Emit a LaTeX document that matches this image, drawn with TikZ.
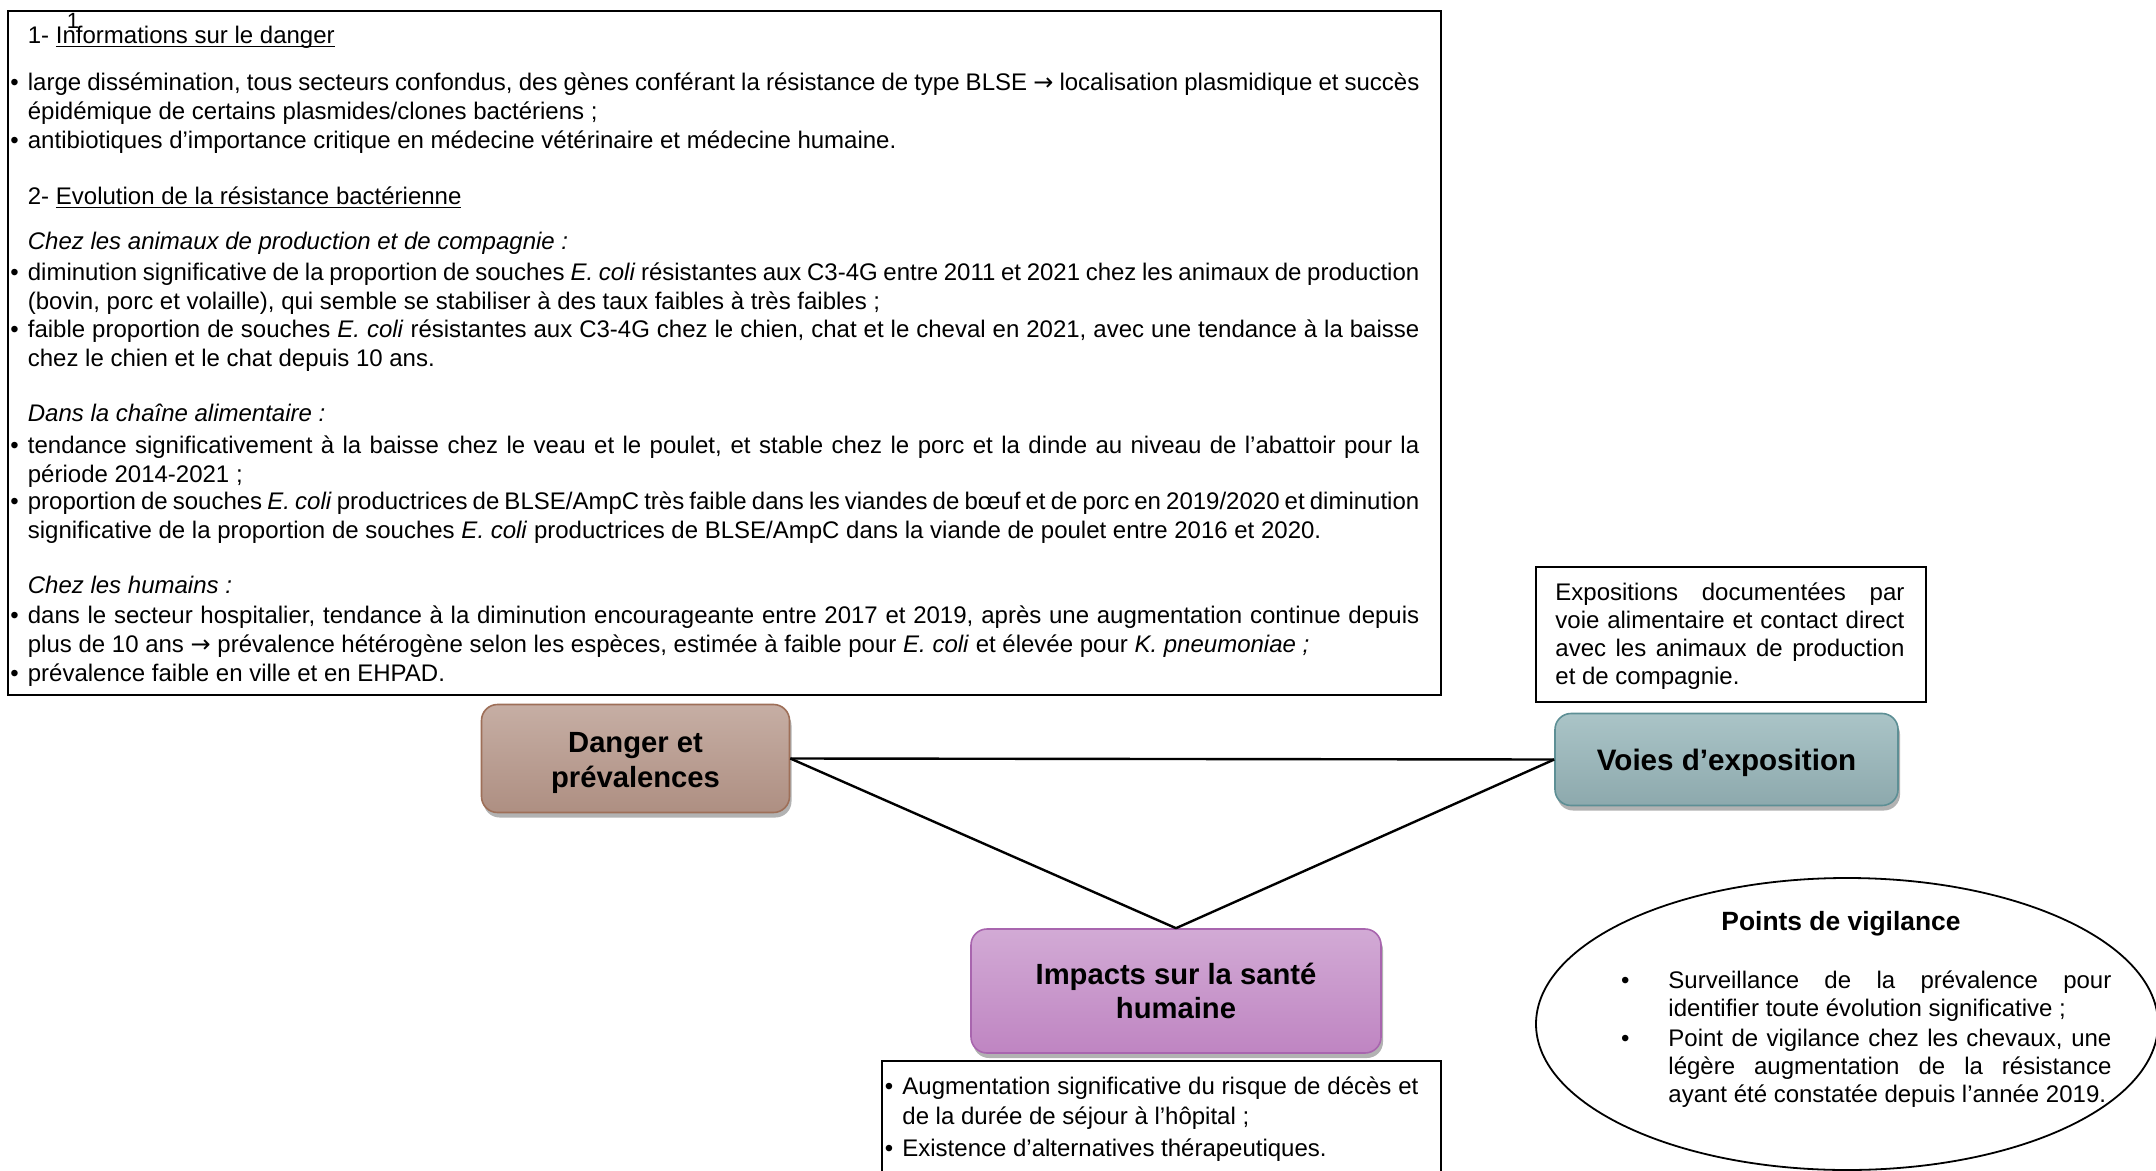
\documentclass[tikz,border=0pt]{standalone}
\usepackage{fontspec}
\setmainfont{Liberation Sans}
\newfontfamily\arrowfont{DejaVu Sans}
\usetikzlibrary{shapes.geometric,shadows}
\setlength{\parindent}{0pt}
\hyphenpenalty=10000
\exhyphenpenalty=10000
\tolerance=10000
\hbadness=10000
\newlength{\ulwidth}
\newcommand{\myul}[1]{\settowidth{\ulwidth}{#1}\rlap{\rule[-1.8pt]{\ulwidth}{0.6pt}}#1}
\newcommand{\arr}{{\arrowfont\fontsize{12}{14}\selectfont →}}
\newcommand{\bul}{\llap{\textbullet\hspace{4.6pt}}}
\newcommand{\bulL}{\llap{\textbullet\hspace{19.4pt}}}
\definecolor{dangerTop}{HTML}{C6AEA4}
\definecolor{dangerBot}{HTML}{AE8F82}
\definecolor{dangerLine}{HTML}{9E6F58}
\definecolor{voiesTop}{HTML}{AAC4C7}
\definecolor{voiesBot}{HTML}{8DA9AD}
\definecolor{voiesLine}{HTML}{5D8F95}
\definecolor{impTop}{HTML}{D2AAD5}
\definecolor{impBot}{HTML}{BF85C2}
\definecolor{impLine}{HTML}{A865AE}
\tikzset{
  txt/.style={anchor=north west, inner sep=0pt, align=justify, font=\fontsize{12}{14.4}\selectfont},
  toptxt/.style={txt, text width=695.75pt},
  frame/.style={draw, line width=1.1pt, inner sep=0pt, anchor=north west},
  bx/.style={draw, rounded corners=8pt, line width=0.8pt, inner sep=0pt,
    drop shadow={shadow xshift=1pt, shadow yshift=-2.5pt, opacity=0.3, fill=black}},
  bxlabel/.style={inner sep=0pt, align=center, font=\fontsize{14.6}{17.2}\selectfont\bfseries},
  conn/.style={line width=1.2pt, black},
}
\begin{document}
\begin{tikzpicture}[x=0.5pt, y=-0.5pt]
\useasboundingbox (0,0) rectangle (2156,1171);
\fill[white] (0,0) rectangle (2156,1171);
\clip (0,0) rectangle (2156,1171);

% top information box
\node[frame, minimum width=716.5pt, minimum height=342pt] (topbox) at (7,10) {};
\node[toptxt] (h1) at (27.5,23.2) {\strut 1- \myul{Informations sur le danger}};
\node[anchor=base, inner sep=0pt, font=\fontsize{11}{13}\selectfont] (fn) at (73,29) {1};
\node[toptxt] (b1) at (27.5,69.9) {\strut\bul large dissémination, tous secteurs confondus, des gènes conférant la résistance de type BLSE \arr{} localisation plasmidique et succès\linebreak épidémique de certains plasmides/clones bactériens ;};
\node[toptxt] (b2) at (27.5,127.7) {\strut\bul antibiotiques d’importance critique en médecine vétérinaire et médecine humaine.};
\node[toptxt] (h2) at (27.5,184.1) {\strut 2- \myul{Evolution de la résistance bactérienne}};
\node[toptxt] (i1) at (27.5,229.4) {\strut\textit{Chez les animaux de production et de compagnie :}};
\node[toptxt] (b3) at (27.5,259.7) {\strut\bul diminution significative de la proportion de souches \textit{E. coli} résistantes aux C3-4G entre 2011 et 2021 chez les animaux de production\linebreak (bovin, porc et volaille), qui semble se stabiliser à des taux faibles à très faibles ;};
\node[toptxt] (b4) at (27.5,317.4) {\strut\bul faible proportion de souches \textit{E. coli} résistantes aux C3-4G chez le chien, chat et le cheval en 2021, avec une tendance à la baisse\linebreak chez le chien et le chat depuis 10 ans.};
\node[toptxt] (i2) at (27.5,401.3) {\strut\textit{Dans la chaîne alimentaire :}};
\node[toptxt] (b5) at (27.5,432.9) {\strut\bul tendance significativement à la baisse chez le veau et le poulet, et stable chez le porc et la dinde au niveau de l’abattoir pour la\linebreak période 2014-2021 ;};
\node[toptxt] (b6) at (27.5,489.3) {\strut\bul proportion de souches \textit{E. coli} productrices de BLSE/AmpC très faible dans les viandes de bœuf et de porc en 2019/2020 et diminution\linebreak significative de la proportion de souches \textit{E. coli} productrices de BLSE/AmpC dans la viande de poulet entre 2016 et 2020.};
\node[toptxt] (i3) at (27.5,573.2) {\strut\textit{Chez les humains :}};
\node[toptxt] (b7) at (27.5,603.4) {\strut\bul dans le secteur hospitalier, tendance à la diminution encourageante entre 2017 et 2019, après une augmentation continue depuis\linebreak plus de 10 ans \arr{} prévalence hétérogène selon les espèces, estimée à faible pour \textit{E. coli} et élevée pour \textit{K. pneumoniae ;}};
\node[toptxt] (b8) at (27.5,661.2) {\strut\bul prévalence faible en ville et en EHPAD.};

% exposure text box
\node[frame, line width=1pt, minimum width=195pt, minimum height=67.5pt] (expobox) at (1535,566) {};
\node[txt, text width=174.5pt, font=\fontsize{12}{14}\selectfont] (expotxt) at (1555,580.3) {\strut Expositions documentées par\linebreak voie alimentaire et contact direct\linebreak avec les animaux de production\linebreak et de compagnie.};

% main boxes
\node[bx, top color=dangerTop, bottom color=dangerBot, draw=dangerLine, minimum width=154pt, minimum height=54pt] (danger) at (635.5,758.5) {};
\node[bxlabel] (dangertxt) at (635.5,763) {Danger et\\prévalences};
\node[bx, top color=voiesTop, bottom color=voiesBot, draw=voiesLine, minimum width=171.5pt, minimum height=46pt] (voies) at (1726.5,759.5) {};
\node[bxlabel, font=\fontsize{14.8}{17.2}\selectfont\bfseries] (voiestxt) at (1726.5,762.5) {Voies d’exposition};
\node[bx, top color=impTop, bottom color=impBot, draw=impLine, minimum width=205pt, minimum height=62pt] (impacts) at (1176,991) {};
\node[bxlabel] (impactstxt) at (1176,991) {Impacts sur la santé\\humaine};

% connectors
\draw[conn] (danger.east) -- (voies.west);
\draw[conn] (danger.east) -- (impacts.north);
\draw[conn] (voies.west) -- (impacts.north);

% impacts text box
\node[frame, minimum width=279.5pt, minimum height=80pt] (impbox) at (881,1060) {};
\node[txt, text width=258pt, font=\fontsize{12}{15}\selectfont] (imp1) at (902,1073.5) {\strut\bul Augmentation significative du risque de décès et\linebreak de la durée de séjour à l{\char"0027}hôpital ;};
\node[txt, text width=258pt, font=\fontsize{12}{15}\selectfont] (imp2) at (902,1135) {\strut\bul Existence d’alternatives thérapeutiques.};

% vigilance ellipse
\node[draw, ellipse, line width=0.9pt, minimum width=311pt, minimum height=146pt, inner sep=0pt] (vig) at (1847,1024) {};
\node[inner sep=0pt, font=\fontsize{13.2}{15}\selectfont\bfseries] (vigtitle) at (1841,924) {Points de vigilance};
\node[txt, text width=221.5pt, font=\fontsize{12}{13.9}\selectfont] (vig1) at (1668,969) {\strut\bulL Surveillance de la prévalence pour\linebreak identifier toute évolution significative~;\strut};
\node[txt, text width=221.5pt, font=\fontsize{12}{13.9}\selectfont] (vig2) at (1668,1027) {\strut\bulL Point de vigilance chez les chevaux, une\linebreak légère augmentation de la résistance\linebreak ayant été constatée depuis l’année 2019.};
\end{tikzpicture}
\end{document}
